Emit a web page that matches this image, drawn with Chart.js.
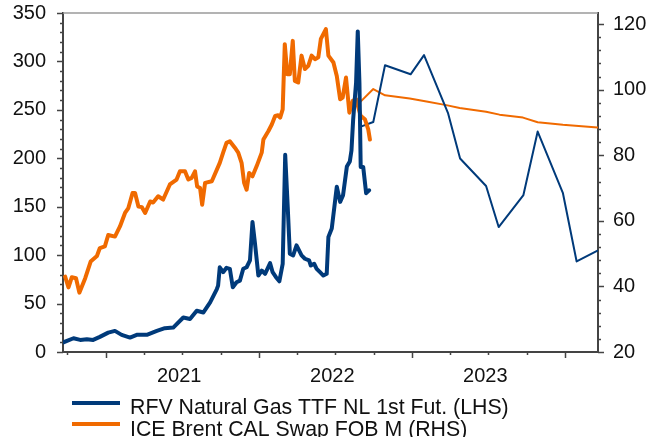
<!DOCTYPE html>
<html>
<head>
<meta charset="utf-8">
<script src="https://cdn.jsdelivr.net/npm/chart.js@4/dist/chart.umd.min.js"></script>
<style>
  html, body { margin: 0; padding: 0; background: #fff; }
  #wrap { width: 651px; height: 437px; }
</style>
</head>
<body>
<div id="wrap"><canvas id="gas-oil"></canvas></div>
<script>
// history (weekly-ish) and forward curves
var ttfDates = ['2020-09-22','2020-10-16','2020-11-01','2020-11-17','2020-12-02','2020-12-18',
  '2021-01-07','2021-01-23','2021-02-08','2021-02-28','2021-03-16','2021-04-09','2021-05-03',
  '2021-05-22','2021-06-11','2021-07-05','2021-07-21','2021-08-06','2021-08-22','2021-09-07',
  '2021-09-23','2021-09-26','2021-09-30','2021-10-08','2021-10-16','2021-10-24','2021-10-31',
  '2021-11-09','2021-11-17','2021-11-25','2021-12-03','2021-12-11','2021-12-17','2021-12-23',
  '2021-12-31','2022-01-08','2022-01-16','2022-01-28','2022-02-03','2022-02-11','2022-02-19',
  '2022-02-27','2022-03-05','2022-03-11','2022-03-16','2022-03-24','2022-04-01','2022-04-13',
  '2022-04-21','2022-05-01','2022-05-05','2022-05-13','2022-05-19','2022-05-27','2022-06-04',
  '2022-06-12','2022-06-16','2022-06-24','2022-07-06','2022-07-14','2022-07-21','2022-07-30',
  '2022-08-06','2022-08-10','2022-08-14','2022-08-21','2022-08-25','2022-08-29','2022-09-01',
  '2022-09-07','2022-09-14','2022-09-21'];
var ttfValues = [10,14.2,12.5,13.2,12.5,15.6,
  20,21.8,17.7,14.9,17.7,17.7,21.8,
  24.6,25.2,35.6,34,42.6,40.8,51.2,
  65,68.5,87.5,82.4,86.9,85.9,66.8,
  72,73.7,85.9,87.5,94.5,134.3,111.9,
  78.9,84.1,80.7,91.7,82.4,77.2,73,
  91.1,203.6,149.9,101.5,99.7,110.1,99.7,
  96.3,94.5,89.3,91.1,85.9,82.4,78.9,
  80.7,118.7,127.4,170.6,155,162,191.4,
  196.6,208,240,278,331,278,191,
  191,164,167];

var brentDates = ['2020-09-26','2020-10-04','2020-10-12','2020-10-22','2020-10-30','2020-11-13',
  '2020-11-26','2020-12-11','2020-12-18','2020-12-30','2021-01-07','2021-01-23','2021-02-04',
  '2021-02-16','2021-02-24','2021-03-06','2021-03-12','2021-03-20','2021-03-28','2021-04-05',
  '2021-04-17','2021-04-24','2021-05-06','2021-05-18','2021-06-03','2021-06-19','2021-06-27',
  '2021-07-09','2021-07-17','2021-07-25','2021-08-02','2021-08-07','2021-08-14','2021-08-19',
  '2021-08-26','2021-09-11','2021-09-30','2021-10-08','2021-10-16','2021-10-24','2021-11-05',
  '2021-11-13','2021-11-21','2021-11-27','2021-12-03','2021-12-09','2021-12-17','2021-12-27',
  '2022-01-08','2022-01-12','2022-01-24','2022-02-01','2022-02-09','2022-02-16','2022-02-21',
  '2022-02-27','2022-03-04','2022-03-10','2022-03-16','2022-03-23','2022-03-28','2022-04-05',
  '2022-04-13','2022-04-21','2022-04-29','2022-05-07','2022-05-15','2022-05-23','2022-05-29',
  '2022-06-10','2022-06-16','2022-06-28','2022-07-06','2022-07-14','2022-07-20','2022-07-28',
  '2022-08-05','2022-08-13','2022-08-21','2022-09-01','2022-09-11','2022-09-19','2022-09-23'];
var brentValues = [43,39.7,42.8,42.5,38.1,42.5,
  47.6,49.3,51.7,52.2,55.7,55.2,58.3,
  62.4,63.9,68.5,68.5,64.4,64.2,62.4,
  65.9,65.6,67.5,66.5,71.1,72.6,75.1,
  75.1,72.6,73.1,75.1,70.5,70,64.9,
  71.6,72.1,77.7,80.8,83.8,84.3,82.3,
  80.8,77.7,71.6,69.5,74.6,73.6,76.7,
  80.8,84.8,87.4,89.4,92,92.2,91.5,
  94,113.9,104.7,104.7,114.9,102.7,102.2,
  110.4,106.3,107.3,110.4,109.3,109.9,115.5,
  118.5,110.4,108.3,104.2,97.1,97.6,103.7,
  93,96.6,97.1,92,91,87.9,84.8];

var ttfFwdDates = ['2022-09-03','2022-10-01','2022-10-29','2022-12-29','2023-01-30','2023-03-28',
  '2023-04-26','2023-06-27','2023-07-27','2023-09-24','2023-10-28','2023-12-27','2024-01-29','2024-03-19'];
var ttfFwdValues = [233,237.5,296,286.7,306.5,246.9,199.8,171.4,129,162,227.6,164.4,93.5,104.6];

var brentFwdDates = ['2022-08-21','2022-10-01','2022-10-29','2022-12-27','2023-02-05','2023-03-24',
  '2023-04-25','2023-06-27','2023-07-29','2023-09-23','2023-10-28','2023-12-27','2024-03-19'];
var brentFwdValues = [95,100.2,98.3,97.3,96.4,95.3,94.4,93.3,92.4,91.5,90.1,89.3,88.5];

var yearLabels = ['2021', '2022', '2023'];
var rightTicks = [20, 40, 60, 80, 100, 120];
var seriesNames = ['RFV Natural Gas TTF NL 1st Fut. (LHS)', 'ICE Brent CAL Swap FOB M (RHS)'];

var NAVY = '#003a7a';
var ORANGE = '#f06a00';
var FONT = "'Liberation Sans', Arial, sans-serif";

// date string -> fractional year
function toYear(s) {
  var p = s.split('-').map(Number);
  var start = Date.UTC(p[0], 0, 1), end = Date.UTC(p[0] + 1, 0, 1);
  return p[0] + (Date.UTC(p[0], p[1] - 1, p[2]) - start) / (end - start);
}
function pts(dates, vals) {
  return dates.map(function (d, i) { return { x: toYear(d), y: vals[i] }; });
}
// keep the plot box fixed, whatever the labels ask for
function fixBox(size) {
  return function (scale) {
    if (scale.isHorizontal()) scale.height = size; else scale.width = size;
    scale.paddingTop = 0; scale.paddingBottom = 0;
    scale.paddingLeft = 0; scale.paddingRight = 0;
  };
}

// small/major tick marks, grey top rule and the legend
var frame = {
  id: 'frame',
  afterDraw: function (chart) {
    var ctx = chart.ctx, a = chart.chartArea, s = chart.scales;
    ctx.save();
    ctx.strokeStyle = '#9a9a9a';
    ctx.lineWidth = 1.5;
    ctx.beginPath();
    ctx.moveTo(a.left, a.top);
    ctx.lineTo(a.right, a.top);
    ctx.stroke();

    ctx.strokeStyle = '#444';
    ctx.lineWidth = 1.5;
    ctx.beginPath();
    for (var q = 2020.75; q <= 2024.01; q += 0.25) {
      var px = Math.round(s.x.getPixelForValue(q)) + 0.5;
      var len = Math.abs(q - Math.round(q)) < 0.01 ? 6 : 3;
      ctx.moveTo(px, a.bottom);
      ctx.lineTo(px, a.bottom + len);
    }
    for (var v = 0; v <= 350; v += 10) {
      var py = Math.round(s.yL.getPixelForValue(v)) + 0.5;
      ctx.moveTo(a.left, py);
      ctx.lineTo(a.left - (v % 50 === 0 ? 6 : 3), py);
    }
    for (var w = 20; w <= 120; w += 4) {
      var pr = Math.round(s.yR.getPixelForValue(w)) + 0.5;
      ctx.moveTo(a.right, pr);
      ctx.lineTo(a.right + (w % 20 === 0 ? 6 : 3), pr);
    }
    ctx.stroke();

    // legend
    var colors = [NAVY, ORANGE];
    ctx.font = '21.3px ' + FONT;
    ctx.fillStyle = '#111';
    ctx.textBaseline = 'alphabetic';
    for (var i = 0; i < seriesNames.length; i++) {
      var ly = 403 + i * 21;
      ctx.strokeStyle = colors[i];
      ctx.lineWidth = 4;
      ctx.beginPath();
      ctx.moveTo(72, ly);
      ctx.lineTo(120, ly);
      ctx.stroke();
      ctx.fillText(seriesNames[i], 130, ly + 10.5 + i * 1.5);
    }
    ctx.restore();
  }
};

var ctx = document.getElementById('gas-oil').getContext('2d');
var chart = new Chart(ctx, {
  type: 'line',
  data: {
    datasets: [{
      label: seriesNames[0],
      data: pts(ttfDates, ttfValues),
      yAxisID: 'yL',
      borderColor: NAVY,
      borderWidth: 4,
      order: 1
    }, {
      label: seriesNames[1],
      data: pts(brentDates, brentValues),
      yAxisID: 'yR',
      borderColor: ORANGE,
      borderWidth: 4,
      order: 2
    }, {
      label: seriesNames[0] + ' fwd',
      data: pts(ttfFwdDates, ttfFwdValues),
      yAxisID: 'yL',
      borderColor: NAVY,
      borderWidth: 2,
      order: 3
    }, {
      label: seriesNames[1] + ' fwd',
      data: pts(brentFwdDates, brentFwdValues),
      yAxisID: 'yR',
      borderColor: ORANGE,
      borderWidth: 2,
      order: 4
    }]
  },
  options: {
    responsive: true,
    maintainAspectRatio: false,
    animation: false,
    layout: { padding: { top: 13, left: 0, right: 0, bottom: 0 } },
    elements: {
      point: { radius: 0 },
      line: { tension: 0, borderJoinStyle: 'round', borderCapStyle: 'round' }
    },
    plugins: { legend: { display: false }, tooltip: { enabled: false } },
    scales: {
      x: {
        type: 'linear',
        bounds: 'data',
        min: 2020.721,
        max: 2024.216,
        grid: { display: false, drawTicks: false },
        border: { display: true, color: '#444', width: 2 },
        afterBuildTicks: function (scale) {
          scale.ticks = yearLabels.map(function (y) { return { value: Number(y) + 0.48 }; });
        },
        ticks: {
          autoSkip: false,
          maxRotation: 0,
          padding: 12,
          color: '#111',
          font: { family: FONT, size: 20 },
          callback: function (value) { return String(Math.floor(value)); }
        },
        afterFit: fixBox(85)
      },
      yL: {
        position: 'left',
        bounds: 'data',
        min: 0,
        max: 350,
        grid: { display: false, drawTicks: false },
        border: { display: true, color: '#444', width: 2 },
        ticks: { stepSize: 50, padding: 17, color: '#111', font: { family: FONT, size: 20 } },
        afterFit: fixBox(63)
      },
      yR: {
        position: 'right',
        bounds: 'data',
        min: 20,
        max: 123.4,
        grid: { display: false, drawTicks: false },
        border: { display: true, color: '#444', width: 2 },
        afterBuildTicks: function (scale) {
          scale.ticks = rightTicks.map(function (v) { return { value: v }; });
        },
        ticks: { padding: 15, color: '#111', font: { family: FONT, size: 20 } },
        afterFit: fixBox(53)
      }
    }
  },
  plugins: [frame]
});
</script>
</body>
</html>
